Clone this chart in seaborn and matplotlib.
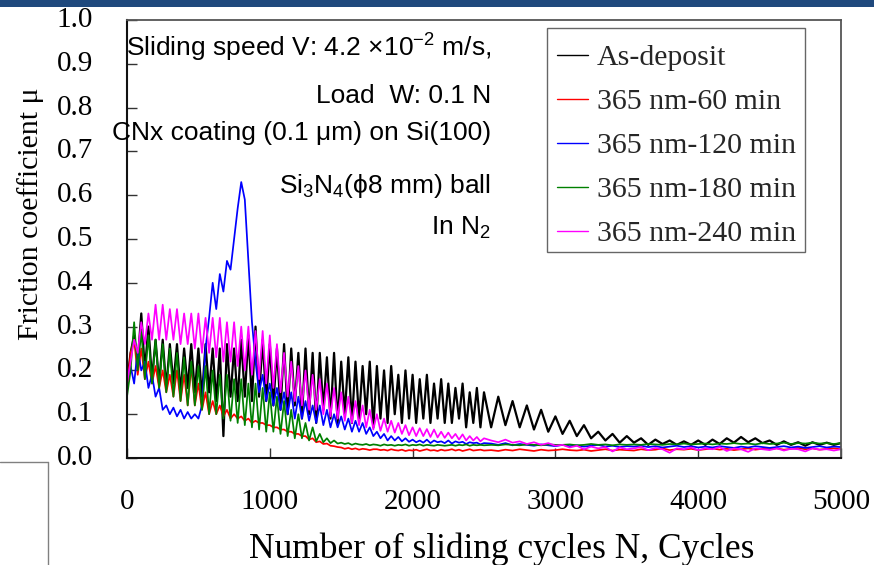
import numpy as np
import pandas as pd
import matplotlib
matplotlib.use("Agg")
import matplotlib.pyplot as plt
from matplotlib.lines import Line2D
from matplotlib.patches import Rectangle
from matplotlib.transforms import blended_transform_factory
import seaborn as sns

# ---------------- data ----------------
series_names = ["As-deposit", "365 nm-60 min", "365 nm-120 min",
                "365 nm-180 min", "365 nm-240 min"]
series_colors = ["#000000", "#FF0000", "#0000FF", "#008000", "#FF00FF"]

# sample positions (cycles): 0..2500 every 25, then 2550..5000 every 50
cycles_head = np.arange(0, 2501, 25)
cycles_tail = np.arange(2550, 5001, 50)

black_head = [
    0.17, 0.24, 0.28, 0.22, 0.33, 0.20, 0.30, 0.18, 0.27, 0.17,
    0.27, 0.16, 0.26, 0.17, 0.26, 0.15, 0.25, 0.16, 0.26, 0.15,
    0.25, 0.14, 0.26, 0.15, 0.25, 0.13, 0.25, 0.05, 0.26, 0.14,
    0.25, 0.13, 0.27, 0.14, 0.28, 0.13, 0.30, 0.14, 0.27, 0.13,
    0.26, 0.12, 0.25, 0.11, 0.26, 0.10, 0.25, 0.12, 0.24, 0.09,
    0.25, 0.10, 0.24, 0.08, 0.24, 0.11, 0.23, 0.09, 0.24, 0.08,
    0.22, 0.10, 0.23, 0.08, 0.22, 0.09, 0.21, 0.10, 0.22, 0.07,
    0.21, 0.09, 0.20, 0.08, 0.21, 0.10, 0.19, 0.08, 0.20, 0.09,
    0.19, 0.08, 0.18, 0.09, 0.19, 0.08, 0.17, 0.09, 0.18, 0.08,
    0.17, 0.08, 0.16, 0.09, 0.17, 0.07, 0.15, 0.08, 0.16, 0.07,
    0.15]
black_tail = [
    0.07, 0.14, 0.075, 0.13, 0.07, 0.12, 0.065, 0.11, 0.06, 0.095,
    0.055, 0.085, 0.05, 0.075, 0.045, 0.06, 0.04, 0.055, 0.035, 0.05,
    0.035, 0.045, 0.03, 0.042, 0.032, 0.04, 0.03, 0.038, 0.03, 0.04,
    0.03, 0.042, 0.032, 0.045, 0.035, 0.048, 0.036, 0.045, 0.034, 0.04,
    0.03, 0.038, 0.03, 0.036, 0.028, 0.036, 0.03, 0.035, 0.03, 0.034]

red_head = [
    0.16, 0.24, 0.27, 0.19, 0.25, 0.18, 0.22, 0.17, 0.21, 0.16,
    0.20, 0.15, 0.19, 0.14, 0.20, 0.13, 0.19, 0.12, 0.21, 0.12,
    0.17, 0.11, 0.15, 0.10, 0.13, 0.10, 0.12, 0.095, 0.11, 0.09,
    0.10, 0.09, 0.095, 0.085, 0.09, 0.08, 0.085, 0.08, 0.08, 0.075,
    0.075, 0.07, 0.07, 0.065, 0.065, 0.06, 0.06, 0.055, 0.055, 0.05,
    0.05, 0.042, 0.045, 0.036, 0.038, 0.032, 0.033, 0.028, 0.027, 0.025,
    0.024, 0.021, 0.023, 0.02, 0.022, 0.019, 0.021, 0.02, 0.018, 0.02,
    0.02, 0.018, 0.019, 0.017, 0.02, 0.018, 0.017, 0.019, 0.016, 0.018,
    0.017, 0.019, 0.016, 0.018, 0.02, 0.017, 0.018, 0.016, 0.019, 0.017,
    0.018, 0.02, 0.017, 0.019, 0.016, 0.018, 0.02, 0.017, 0.018, 0.019,
    0.017]
red_tail = [
    0.018, 0.016, 0.019, 0.017, 0.02, 0.018, 0.016, 0.019, 0.017, 0.018,
    0.02, 0.018, 0.017, 0.019, 0.016, 0.018, 0.02, 0.017, 0.019, 0.018,
    0.017, 0.02, 0.018, 0.019, 0.022, 0.018, 0.02, 0.019, 0.021, 0.018,
    0.02, 0.022, 0.019, 0.021, 0.018, 0.02, 0.022, 0.019, 0.021, 0.02,
    0.022, 0.019, 0.021, 0.023, 0.02, 0.022, 0.019, 0.021, 0.022, 0.02]

blue_head = [
    0.18, 0.21, 0.17, 0.25, 0.20, 0.22, 0.16, 0.19, 0.14, 0.16,
    0.11, 0.12, 0.10, 0.115, 0.095, 0.11, 0.09, 0.105, 0.09, 0.10,
    0.09, 0.12, 0.25, 0.32, 0.40, 0.34, 0.42, 0.38, 0.45, 0.43,
    0.50, 0.57, 0.63, 0.59, 0.45, 0.31, 0.22, 0.15, 0.19, 0.13,
    0.17, 0.12, 0.16, 0.11, 0.15, 0.10, 0.15, 0.09, 0.14, 0.09,
    0.13, 0.085, 0.12, 0.08, 0.12, 0.075, 0.11, 0.07, 0.10, 0.07,
    0.095, 0.065, 0.09, 0.06, 0.085, 0.06, 0.08, 0.055, 0.07, 0.05,
    0.06, 0.045, 0.055, 0.04, 0.05, 0.04, 0.048, 0.038, 0.045, 0.037,
    0.042, 0.036, 0.04, 0.035, 0.042, 0.034, 0.04, 0.036, 0.038, 0.034,
    0.04, 0.033, 0.038, 0.035, 0.037, 0.032, 0.036, 0.034, 0.035, 0.031,
    0.034]
blue_tail = [
    0.033, 0.03, 0.034, 0.029, 0.032, 0.03, 0.028, 0.031, 0.029, 0.027,
    0.03, 0.027, 0.029, 0.026, 0.028, 0.03, 0.026, 0.028, 0.025, 0.027,
    0.026, 0.028, 0.025, 0.027, 0.024, 0.026, 0.028, 0.025, 0.027, 0.024,
    0.026, 0.024, 0.027, 0.025, 0.023, 0.026, 0.024, 0.027, 0.025, 0.023,
    0.025, 0.027, 0.024, 0.026, 0.023, 0.025, 0.027, 0.024, 0.026, 0.025]

green_head = [
    0.14, 0.20, 0.31, 0.20, 0.29, 0.18, 0.28, 0.17, 0.27, 0.16,
    0.26, 0.15, 0.25, 0.14, 0.24, 0.13, 0.23, 0.12, 0.22, 0.12,
    0.21, 0.11, 0.21, 0.10, 0.20, 0.10, 0.19, 0.09, 0.19, 0.085,
    0.18, 0.08, 0.18, 0.075, 0.17, 0.07, 0.17, 0.065, 0.16, 0.06,
    0.15, 0.06, 0.14, 0.055, 0.13, 0.05, 0.11, 0.045, 0.10, 0.045,
    0.08, 0.04, 0.07, 0.038, 0.055, 0.036, 0.045, 0.034, 0.04, 0.033,
    0.035, 0.032, 0.034, 0.03, 0.033, 0.031, 0.03, 0.032, 0.029, 0.031,
    0.03, 0.028, 0.031, 0.029, 0.03, 0.028, 0.03, 0.029, 0.031, 0.028,
    0.03, 0.029, 0.031, 0.028, 0.03, 0.029, 0.028, 0.03, 0.029, 0.028,
    0.029, 0.03, 0.028, 0.03, 0.029, 0.031, 0.028, 0.03, 0.029, 0.03,
    0.029]
green_tail = [
    0.03, 0.029, 0.031, 0.03, 0.029, 0.031, 0.03, 0.029, 0.031, 0.03,
    0.03, 0.031, 0.029, 0.03, 0.032, 0.03, 0.031, 0.029, 0.031, 0.03,
    0.031, 0.03, 0.032, 0.031, 0.03, 0.032, 0.031, 0.033, 0.031, 0.032,
    0.033, 0.031, 0.033, 0.032, 0.034, 0.032, 0.033, 0.031, 0.034, 0.032,
    0.033, 0.035, 0.032, 0.034, 0.033, 0.035, 0.033, 0.034, 0.032, 0.034]

magenta_head = [
    0.17, 0.22, 0.27, 0.24, 0.31, 0.26, 0.33, 0.27, 0.35, 0.27,
    0.35, 0.27, 0.34, 0.27, 0.34, 0.26, 0.33, 0.26, 0.33, 0.25,
    0.33, 0.24, 0.32, 0.24, 0.32, 0.23, 0.32, 0.22, 0.31, 0.22,
    0.31, 0.21, 0.30, 0.20, 0.30, 0.19, 0.29, 0.18, 0.29, 0.17,
    0.28, 0.16, 0.26, 0.15, 0.24, 0.14, 0.22, 0.13, 0.21, 0.12,
    0.20, 0.11, 0.19, 0.11, 0.18, 0.10, 0.17, 0.095, 0.16, 0.09,
    0.15, 0.085, 0.14, 0.08, 0.13, 0.075, 0.12, 0.07, 0.11, 0.065,
    0.10, 0.062, 0.09, 0.06, 0.085, 0.058, 0.08, 0.055, 0.075, 0.052,
    0.07, 0.05, 0.068, 0.05, 0.066, 0.048, 0.065, 0.047, 0.06, 0.046,
    0.058, 0.045, 0.055, 0.042, 0.054, 0.04, 0.05, 0.04, 0.048, 0.038,
    0.045]
magenta_tail = [
    0.04, 0.036, 0.042, 0.035, 0.038, 0.032, 0.036, 0.03, 0.034, 0.028,
    0.03, 0.024, 0.028, 0.02, 0.026, 0.022, 0.025, 0.015, 0.024, 0.02,
    0.022, 0.025, 0.018, 0.023, 0.02, 0.012, 0.022, 0.02, 0.024, 0.018,
    0.022, 0.02, 0.025, 0.016, 0.022, 0.02, 0.014, 0.022, 0.02, 0.018,
    0.022, 0.017, 0.021, 0.02, 0.015, 0.022, 0.019, 0.02, 0.017, 0.02]

x_ticks = [0, 1000, 2000, 3000, 4000, 5000]
y_ticks = [0.0, 0.1, 0.2, 0.3, 0.4, 0.5, 0.6, 0.7, 0.8, 0.9, 1.0]

# ---------------- build long-form table ----------------
heads = [black_head, red_head, blue_head, green_head, magenta_head]
tails = [black_tail, red_tail, blue_tail, green_tail, magenta_tail]
frames = []
for name, h, t in zip(series_names, heads, tails):
    frames.append(pd.DataFrame({
        "cycles": np.concatenate([cycles_head, cycles_tail]),
        "mu": np.concatenate([h, t]),
        "series": name}))
df = pd.concat(frames, ignore_index=True)

# ---------------- figure ----------------
sns.set_theme(style="white")
plt.rcParams["font.family"] = ["Liberation Serif", "DejaVu Serif"]
plt.rcParams["mathtext.fontset"] = "custom"
plt.rcParams["mathtext.rm"] = "Liberation Sans"
plt.rcParams["mathtext.it"] = "Liberation Sans:italic"
plt.rcParams["mathtext.bf"] = "Liberation Sans:bold"

W, H = 874, 565
fig = plt.figure(figsize=(W / 100, H / 100), dpi=100)
fig.patch.set_facecolor("white")

def fx(px):
    return px / W

def fy(py):
    return 1 - py / H

AX_L, AX_R, AX_T, AX_B = 127, 841, 20, 458
ax = fig.add_axes([fx(AX_L), fy(AX_B), fx(AX_R) - fx(AX_L), fy(AX_T) - fy(AX_B)])

sns.lineplot(data=df, x="cycles", y="mu", hue="series",
             palette=dict(zip(series_names, series_colors)),
             hue_order=series_names, estimator=None, sort=True,
             linewidth=1.25, ax=ax)
# the as-deposit trace is drawn a little heavier, as in the reference
for ln in ax.lines:
    if ln.get_label() == series_names[0] or matplotlib.colors.to_hex(ln.get_color()) == "#000000":
        ln.set_linewidth(1.6)

ax.set_xlim(0, 5000)
ax.set_ylim(0, 1.0)
ax.set_xticks(x_ticks)
ax.set_xticklabels([str(v) for v in x_ticks])
ax.set_yticks(y_ticks)
ax.tick_params(axis="both", direction="in", length=7, width=1.0,
               color="#333333", labelsize=21, labelcolor="black")
ax.tick_params(axis="x", pad=22, bottom=True)
ax.tick_params(axis="y", left=True, labelleft=False)
ax.set_xlabel("")
ax.set_ylabel("")
ax.set_facecolor("white")

# y tick labels placed well left of the axis (as in the reference)
ytrans = blended_transform_factory(ax.transAxes, ax.transData)
ylab_x = (93 - AX_L) / (AX_R - AX_L)
for v in y_ticks:
    ax.text(ylab_x, v, f"{v:.1f}", transform=ytrans, ha="right",
            va="center", fontsize=21, color="black", clip_on=False)

for side in ["left", "bottom"]:
    ax.spines[side].set_color("#111111")
    ax.spines[side].set_linewidth(1.5)
for side in ["top", "right"]:
    ax.spines[side].set_color("#555555")
    ax.spines[side].set_linewidth(1.3)

# legend (content) + its frame drawn as a box
handles, labels = ax.get_legend_handles_labels()
leg = ax.legend(handles, labels, loc="upper left",
                bbox_to_anchor=(fx(547), fy(34.5)), bbox_transform=fig.transFigure,
                frameon=False, fontsize=21.5, handlelength=1.05,
                handletextpad=0.3, labelspacing=0.57, borderpad=0.33,
                borderaxespad=0)
for ln in leg.get_lines():
    ln.set_linewidth(1.0)
fig.patches.append(Rectangle((fx(547), fy(252)), fx(805) - fx(547), fy(28) - fy(252),
                             transform=fig.transFigure, facecolor="none",
                             edgecolor="#666666", linewidth=1.0, zorder=6))

# annotation block
ann_font = ["Liberation Sans", "DejaVu Sans"]
ann = [
    ("Sliding speed V: 4.2 ×10$^{-2}$ m/s,", 56.5),
    ("Load  W: 0.1 N", 103),
    ("CNx coating (0.1 \u03bcm) on Si(100)", 140),
    ("Si$_3$N$_4$(\u03d58 mm) ball", 193),
    ("In N$_2$", 235),
]
for txt, yb in ann:
    fig.text(fx(491), fy(yb), txt, ha="right", va="baseline",
             fontsize=19, family=ann_font, color="black")

# axis labels
fig.text(fx(502), fy(549), "Number of sliding cycles N, Cycles",
         ha="center", va="center", fontsize=25.5, color="black")
fig.text(fx(31), fy(214), "Friction coefficient \u03bc", ha="center",
         va="center", rotation=90, fontsize=21.5, color="black")

# slide decorations: header bar and bottom-left box outline
fig.patches.append(Rectangle((0, fy(7)), 1, 1 - fy(7), transform=fig.transFigure,
                             facecolor="#1F497D", edgecolor="none", zorder=5))
fig.lines.append(Line2D([0, fx(48)], [fy(462), fy(462)], transform=fig.transFigure,
                        color="#808080", linewidth=1.0))
fig.lines.append(Line2D([fx(48), fx(48)], [fy(462), 0], transform=fig.transFigure,
                        color="#808080", linewidth=1.0))

fig.savefig("out.png", dpi=100, facecolor="white")
